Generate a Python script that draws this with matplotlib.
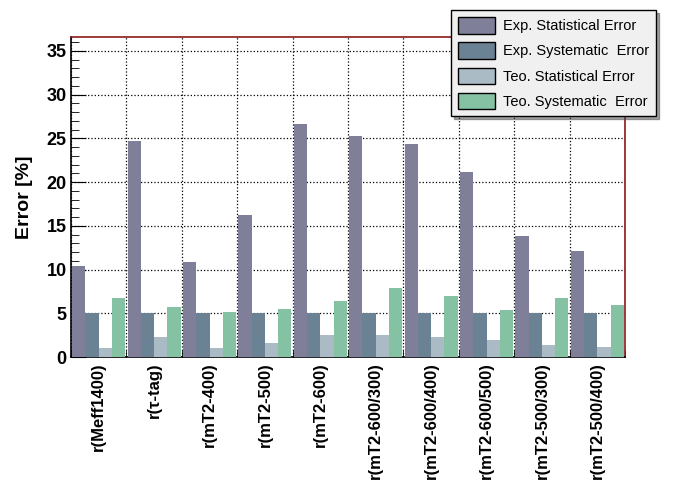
import matplotlib
matplotlib.use("Agg")
import matplotlib.pyplot as plt
import numpy as np
from matplotlib.ticker import MultipleLocator

plt.rcParams['font.family'] = ['Liberation Sans', 'DejaVu Sans']

categories = ['r(Meff1400)', 'r(τ-tag)', 'r(mT2-400)', 'r(mT2-500)', 'r(mT2-600)',
              'r(mT2-600/300)', 'r(mT2-600/400)', 'r(mT2-600/500)', 'r(mT2-500/300)', 'r(mT2-500/400)']
exp_stat = [10.4, 24.7, 10.9, 16.25, 26.65, 25.3, 24.4, 21.2, 13.85, 12.1]
exp_syst = [5.0, 5.0, 5.0, 5.0, 5.0, 5.0, 5.0, 5.0, 5.0, 5.0]
teo_stat = [1.03, 2.3, 1.03, 1.64, 2.55, 2.5, 2.3, 1.95, 1.37, 1.14]
teo_syst = [6.75, 5.76, 5.15, 5.5, 6.4, 7.9, 6.98, 5.38, 6.75, 5.95]

series = [exp_stat, exp_syst, teo_stat, teo_syst]
labels = ['Exp. Statistical Error', 'Exp. Systematic  Error',
          'Teo. Statistical Error', 'Teo. Systematic  Error']
colors = ['#7f7f9a', '#6b8294', '#aabbc5', '#84c2a3']

fig = plt.figure(figsize=(6.73, 4.83), dpi=100)
ax = fig.add_axes([71/673, 1-357/483, (625-71)/673, (357-37)/483])

x = np.arange(len(categories))
w = 0.24
handles = []
for i, (vals, c, lab) in enumerate(zip(series, colors, labels)):
    b = ax.bar(x + 0.02 + i*w, vals, width=w, align='edge', color=c, label=lab, zorder=3)
    handles.append(b)

ax.set_xlim(0, len(categories))
ax.set_ylim(0, 36.6)
ax.set_xticks(x + 0.5)
ax.set_xticklabels(categories, rotation=90, fontsize=12, fontweight='bold')
ax.set_xticks(np.arange(len(categories) + 1), minor=True)
ax.tick_params(axis='x', which='major', length=0, pad=4)
ax.tick_params(axis='x', which='minor', length=5, direction='in', top=False)

ax.yaxis.set_major_locator(MultipleLocator(5))
ax.yaxis.set_minor_locator(MultipleLocator(1))
ax.tick_params(axis='y', which='major', length=11, direction='in', labelsize=13, pad=3)
ax.tick_params(axis='y', which='minor', length=6, direction='in')
for t in ax.get_yticklabels():
    t.set_fontweight('bold')

ax.grid(True, which='minor', axis='x', linestyle=':', color='black', linewidth=0.9, zorder=1)
ax.grid(True, which='major', axis='y', linestyle=':', color='black', linewidth=0.9, zorder=1)

ax.set_ylabel('Error [%]', fontsize=14, fontweight='bold', labelpad=10)

for s in ['top', 'right']:
    ax.spines[s].set_color('#8b1a1a')
ax.spines['left'].set_color('black')
ax.spines['bottom'].set_color('black')
for s in ax.spines.values():
    s.set_linewidth(1.2)

leg = fig.legend(handles=handles, labels=labels, loc='upper left',
                 bbox_to_anchor=(451/673, 1-10/483), fontsize=10.5,
                 fancybox=False, shadow=True, framealpha=1, facecolor='#f0f0f0',
                 edgecolor='black', handlelength=2.5, handleheight=1.35,
                 labelspacing=0.6, borderpad=0.5, handletextpad=0.55, borderaxespad=0)
for p in leg.get_patches():
    p.set_edgecolor('black')
    p.set_linewidth(1.0)

fig.savefig('out.png', dpi=100)
